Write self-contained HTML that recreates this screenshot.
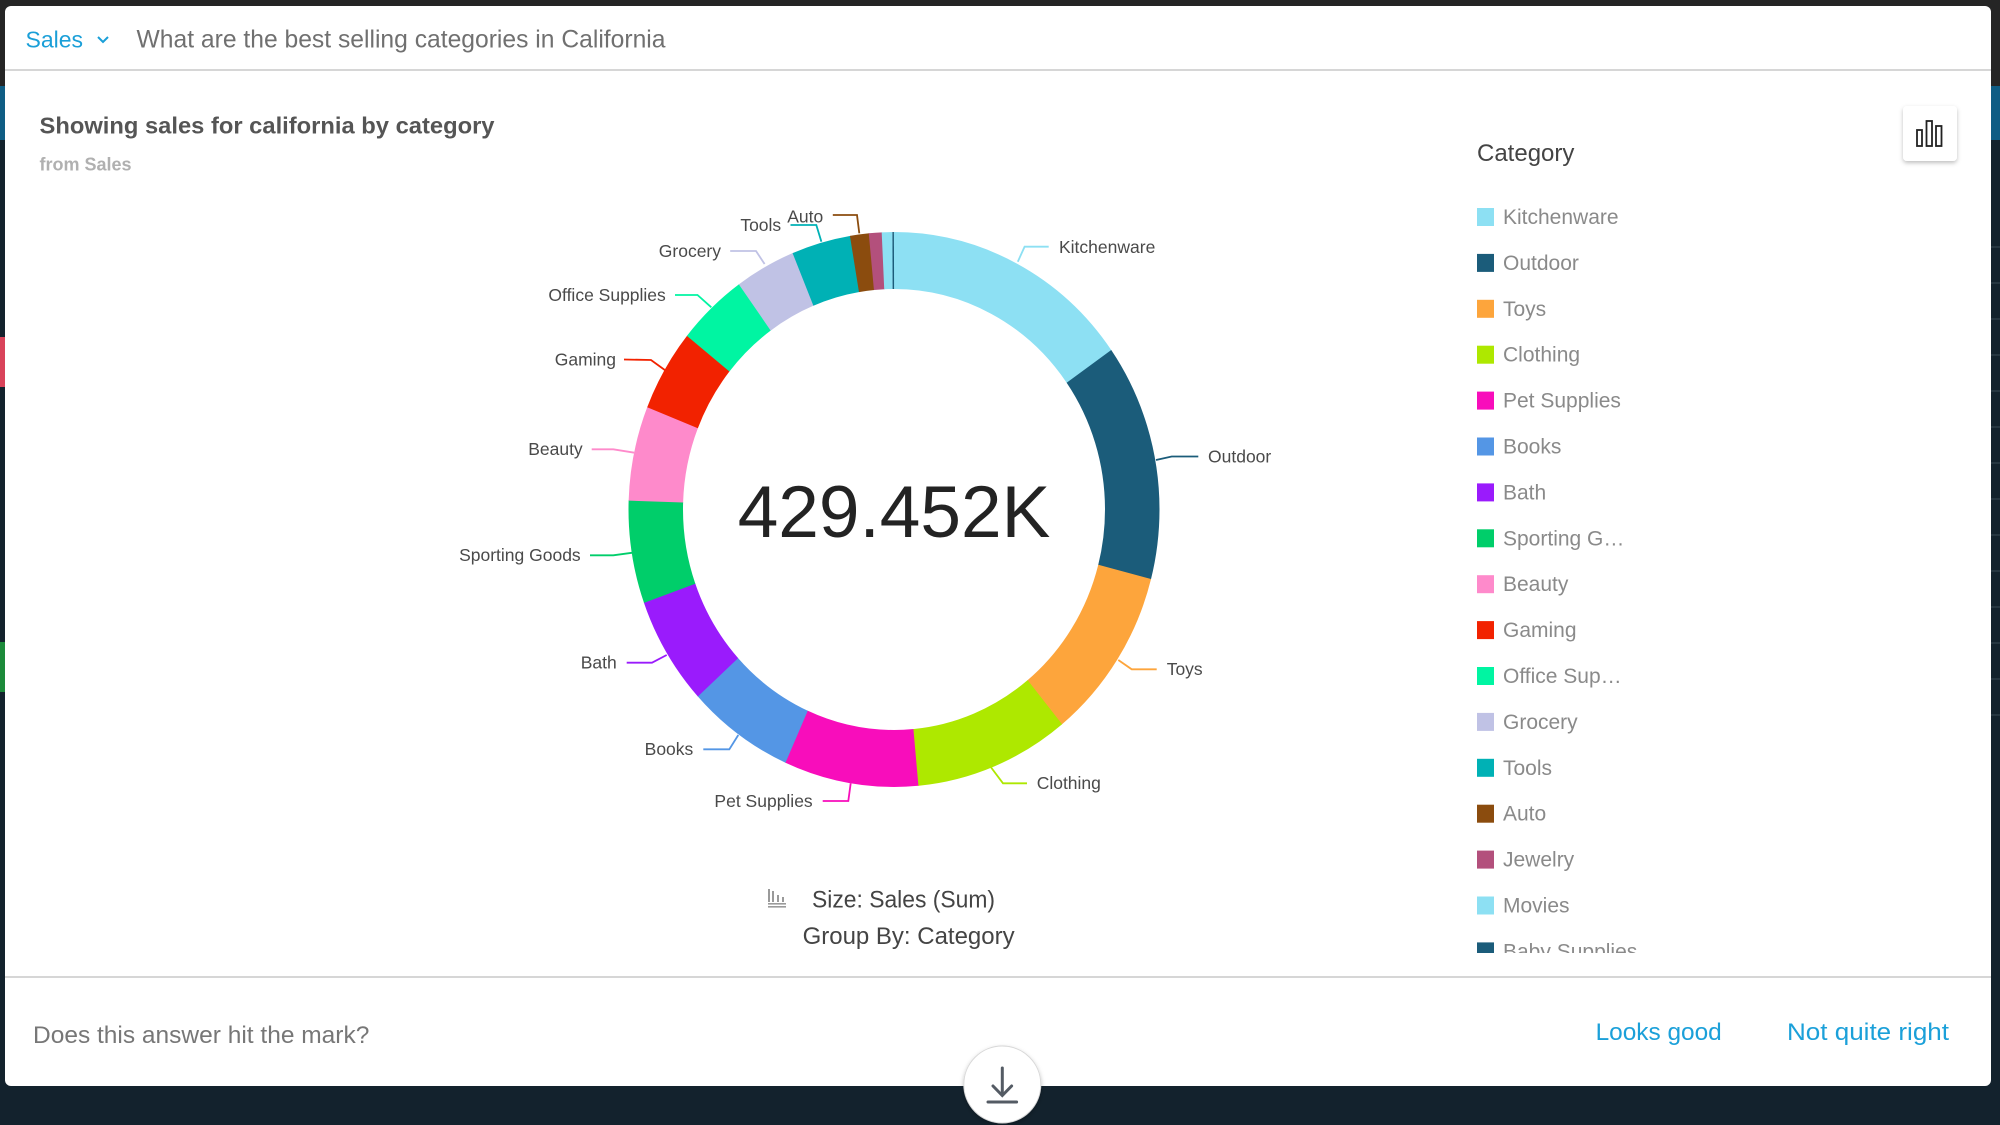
<!DOCTYPE html>
<html><head><meta charset="utf-8"><style>
html,body{margin:0;padding:0;background:#13222d;}
svg{display:block;}
text{font-family:"Liberation Sans",Arial,sans-serif;}
</style></head><body>
<svg width="2000" height="1125" viewBox="0 0 2000 1125" xmlns="http://www.w3.org/2000/svg">
<defs>
<filter id="sh" x="-30%" y="-30%" width="160%" height="170%"><feDropShadow dx="0" dy="2" stdDeviation="2" flood-color="#000" flood-opacity="0.25"/></filter>
<clipPath id="lg"><rect x="1460" y="180" width="400" height="773"/></clipPath>
</defs>
<!-- background -->
<rect x="0" y="0" width="2000" height="1125" fill="#13222d"/>
<rect x="0" y="0" width="2000" height="86" fill="#252525"/>
<rect x="0" y="86" width="2000" height="54" fill="#0f5d84"/>
<rect x="0" y="337" width="6" height="50" fill="#d9435a"/>
<rect x="0" y="642" width="6" height="50" fill="#1c8a3a"/>
<g stroke="#2c3c48" stroke-width="1.5">
<line x1="1990" y1="247" x2="2000" y2="247"/><line x1="1990" y1="283" x2="2000" y2="283"/><line x1="1990" y1="319" x2="2000" y2="319"/><line x1="1990" y1="355" x2="2000" y2="355"/><line x1="1990" y1="391" x2="2000" y2="391"/><line x1="1990" y1="427" x2="2000" y2="427"/><line x1="1990" y1="463" x2="2000" y2="463"/><line x1="1990" y1="499" x2="2000" y2="499"/><line x1="1990" y1="535" x2="2000" y2="535"/><line x1="1990" y1="571" x2="2000" y2="571"/><line x1="1990" y1="607" x2="2000" y2="607"/><line x1="1990" y1="643" x2="2000" y2="643"/><line x1="1990" y1="679" x2="2000" y2="679"/><line x1="1990" y1="715" x2="2000" y2="715"/>
</g>
<!-- panel -->
<rect x="5" y="6" width="1986" height="1080" rx="6" fill="#ffffff"/>
<line x1="5" y1="70" x2="1991" y2="70" stroke="#d6d6d6" stroke-width="2"/>
<line x1="5" y1="977" x2="1991" y2="977" stroke="#d6d6d6" stroke-width="2"/>

<!-- header -->
<text x="25.5" y="47.5" font-size="23" fill="#1a9fd8">Sales</text>
<polyline points="98,37 103,42 108,37" fill="none" stroke="#1a9fd8" stroke-width="2"/>
<text x="136.5" y="47.5" font-size="24.6" fill="#707070" textLength="529" lengthAdjust="spacingAndGlyphs">What are the best selling categories in California</text>

<!-- title -->
<text x="39.5" y="133.6" font-size="23" font-weight="bold" fill="#555555" textLength="455" lengthAdjust="spacingAndGlyphs">Showing sales for california by category</text>
<text x="39.5" y="170.5" font-size="18" font-weight="bold" fill="#b0b0b0">from Sales</text>

<!-- chart type button -->
<rect x="1903" y="106" width="54" height="55" rx="4" fill="#ffffff" filter="url(#sh)"/>
<g fill="none" stroke="#222" stroke-width="1.8">
<rect x="1917" y="130" width="5" height="16"/>
<rect x="1926.5" y="121" width="5.5" height="25"/>
<rect x="1936" y="126" width="5.5" height="20"/>
</g>

<!-- donut -->
<g transform="translate(894,509.5) scale(1,1.045) rotate(-90)" fill="none" stroke-width="54.5">
<circle r="238.25" stroke="#8de0f3" stroke-dasharray="228.9 1500" stroke-dashoffset="0"/>
<circle r="238.25" stroke="#1b5c7a" stroke-dasharray="206.8 1500" stroke-dashoffset="-228.29"/>
<circle r="238.25" stroke="#fda53c" stroke-dasharray="151.1 1500" stroke-dashoffset="-434.54"/>
<circle r="238.25" stroke="#aee800" stroke-dasharray="141.9 1500" stroke-dashoffset="-585.07"/>
<circle r="238.25" stroke="#f80dbb" stroke-dasharray="122.8 1500" stroke-dashoffset="-726.46"/>
<circle r="238.25" stroke="#5496e5" stroke-dasharray="98.3 1500" stroke-dashoffset="-848.71"/>
<circle r="238.25" stroke="#9a1bfc" stroke-dasharray="94.9 1500" stroke-dashoffset="-946.43"/>
<circle r="238.25" stroke="#00ce6a" stroke-dasharray="89.9 1500" stroke-dashoffset="-1040.82"/>
<circle r="238.25" stroke="#fe8acb" stroke-dasharray="82.9 1500" stroke-dashoffset="-1130.22"/>
<circle r="238.25" stroke="#f22200" stroke-dasharray="71.6 1500" stroke-dashoffset="-1212.56"/>
<circle r="238.25" stroke="#00f5a2" stroke-dasharray="65.0 1500" stroke-dashoffset="-1283.67"/>
<circle r="238.25" stroke="#c0c2e5" stroke-dasharray="55.8 1500" stroke-dashoffset="-1348.12"/>
<circle r="238.25" stroke="#00b1b5" stroke-dasharray="54.1 1500" stroke-dashoffset="-1403.43"/>
<circle r="238.25" stroke="#8b4c0e" stroke-dasharray="17.5 1500" stroke-dashoffset="-1457.07"/>
<circle r="238.25" stroke="#b3507c" stroke-dasharray="12.1 1500" stroke-dashoffset="-1474.12"/>
<circle r="238.25" stroke="#8de0f3" stroke-dasharray="9.6 1500" stroke-dashoffset="-1485.77"/>
<circle r="238.25" stroke="#1b5c7a" stroke-dasharray="1.7 1500" stroke-dashoffset="-1495.32"/>
</g>

<!-- leader lines -->
<g fill="none" stroke-width="1.8">
<polyline points="1017.8,261.7 1024.6,246.7 1048.7,246.7" stroke="#8de0f3"/>
<polyline points="1156,460 1171.7,456.5 1198.3,456.5" stroke="#1b5c7a"/>
<polyline points="1118.3,660 1131.7,669.3 1156.7,669.3" stroke="#fda53c"/>
<polyline points="990,766 1003,783.3 1027,783.3" stroke="#aee800"/>
<polyline points="850.7,783.3 848.3,801 822.7,801" stroke="#f80dbb"/>
<polyline points="738.3,735 729.3,749.3 703.3,749.3" stroke="#5496e5"/>
<polyline points="666.7,655 652,662.7 626.7,662.7" stroke="#9a1bfc"/>
<polyline points="632.7,552.7 613.3,555.3 590,555.3" stroke="#00ce6a"/>
<polyline points="634.3,452.7 613.3,449.3 591.7,449.3" stroke="#fe8acb"/>
<polyline points="664.8,370 651,360 624,359.5" stroke="#f22200"/>
<polyline points="711.3,307.3 697.5,295 675,295" stroke="#00f5a2"/>
<polyline points="764.6,264 756,251 730.2,251" stroke="#c0c2e5"/>
<polyline points="821.4,241.7 816.3,225 790.5,225" stroke="#00b1b5"/>
<polyline points="859.3,233.3 857,215 832.8,215" stroke="#8b4c0e"/>
</g>

<!-- labels -->
<g font-size="17.5" fill="#4a4a4a">
<text x="1059" y="252.8">Kitchenware</text>
<text x="1208" y="462.3">Outdoor</text>
<text x="1166.7" y="675.1">Toys</text>
<text x="1036.7" y="789.1">Clothing</text>
<text x="812.7" y="806.8" text-anchor="end">Pet Supplies</text>
<text x="693.3" y="755.1" text-anchor="end">Books</text>
<text x="616.7" y="668.5" text-anchor="end">Bath</text>
<text x="580.7" y="561.1" text-anchor="end">Sporting Goods</text>
<text x="582.7" y="455.1" text-anchor="end">Beauty</text>
<text x="616" y="365.3" text-anchor="end">Gaming</text>
<text x="665.8" y="300.8" text-anchor="end">Office Supplies</text>
<text x="721" y="256.8" text-anchor="end">Grocery</text>
<text x="781.2" y="230.8" text-anchor="end">Tools</text>
<text x="823.2" y="222.3" text-anchor="end">Auto</text>
</g>

<!-- center value -->
<text x="894" y="537" font-size="73" fill="#232323" text-anchor="middle">429.452K</text>

<!-- size / group by -->
<g fill="#9a9a9a">
<rect x="768" y="889" width="2" height="13"/>
<rect x="772" y="891" width="2" height="11"/>
<rect x="777" y="895" width="2" height="7"/>
<rect x="782" y="897" width="2" height="5"/>
<rect x="768" y="903" width="18" height="1.6"/>
<rect x="768" y="906" width="18" height="1.6"/>
</g>
<text x="812" y="907.3" font-size="24" fill="#444" textLength="183" lengthAdjust="spacingAndGlyphs">Size: Sales (Sum)</text>
<text x="802.6" y="944" font-size="24" fill="#444" textLength="212" lengthAdjust="spacingAndGlyphs">Group By: Category</text>

<!-- legend -->
<text x="1477" y="161" font-size="24" fill="#444">Category</text>
<g clip-path="url(#lg)" font-size="21" fill="#8a8a8a">
<rect x="1477" y="208" width="17" height="18" fill="#8de0f3"/><text x="1503" y="224">Kitchenware</text>
<rect x="1477" y="253.9" width="17" height="18" fill="#1b5c7a"/><text x="1503" y="269.9">Outdoor</text>
<rect x="1477" y="299.8" width="17" height="18" fill="#fda53c"/><text x="1503" y="315.8">Toys</text>
<rect x="1477" y="345.7" width="17" height="18" fill="#aee800"/><text x="1503" y="361.7">Clothing</text>
<rect x="1477" y="391.6" width="17" height="18" fill="#f80dbb"/><text x="1503" y="407.6">Pet Supplies</text>
<rect x="1477" y="437.5" width="17" height="18" fill="#5496e5"/><text x="1503" y="453.5">Books</text>
<rect x="1477" y="483.4" width="17" height="18" fill="#9a1bfc"/><text x="1503" y="499.4">Bath</text>
<rect x="1477" y="529.3" width="17" height="18" fill="#00ce6a"/><text x="1503" y="545.3">Sporting G…</text>
<rect x="1477" y="575.2" width="17" height="18" fill="#fe8acb"/><text x="1503" y="591.2">Beauty</text>
<rect x="1477" y="621.1" width="17" height="18" fill="#f22200"/><text x="1503" y="637.1">Gaming</text>
<rect x="1477" y="667" width="17" height="18" fill="#00f5a2"/><text x="1503" y="683">Office Sup…</text>
<rect x="1477" y="712.9" width="17" height="18" fill="#c0c2e5"/><text x="1503" y="728.9">Grocery</text>
<rect x="1477" y="758.8" width="17" height="18" fill="#00b1b5"/><text x="1503" y="774.8">Tools</text>
<rect x="1477" y="804.7" width="17" height="18" fill="#8b4c0e"/><text x="1503" y="820.7">Auto</text>
<rect x="1477" y="850.6" width="17" height="18" fill="#b3507c"/><text x="1503" y="866.6">Jewelry</text>
<rect x="1477" y="896.5" width="17" height="18" fill="#8de0f3"/><text x="1503" y="912.5">Movies</text>
<rect x="1477" y="942.4" width="17" height="18" fill="#1b5c7a"/><text x="1503" y="958.4">Baby Supplies</text>
</g>

<!-- footer -->
<text x="33" y="1043" font-size="24.5" fill="#777">Does this answer hit the mark?</text>
<text x="1595.6" y="1040" font-size="24.4" fill="#1ba0d9">Looks good</text>
<text x="1787" y="1040" font-size="24.4" fill="#1ba0d9" textLength="162" lengthAdjust="spacingAndGlyphs">Not quite right</text>

<!-- download button -->
<circle cx="1002.3" cy="1084.5" r="38.5" fill="#ffffff" stroke="#d8d8d8" stroke-width="1" filter="url(#sh)"/>
<g fill="none" stroke="#545b64" stroke-width="3" stroke-linecap="round">
<line x1="1002.3" y1="1068" x2="1002.3" y2="1095"/>
<polyline points="993,1086 1002.3,1095.5 1011.6,1086"/>
<line x1="988" y1="1102" x2="1016.6" y2="1102"/>
</g>
</svg>
</body></html>
